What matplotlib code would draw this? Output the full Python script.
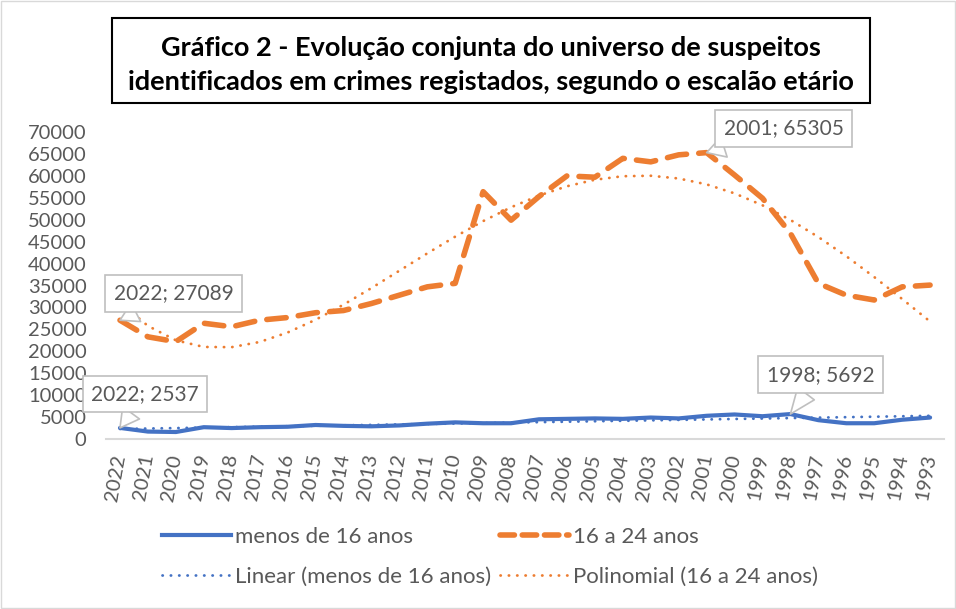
import numpy as np
import matplotlib
matplotlib.use("Agg")
import matplotlib.pyplot as plt
from matplotlib.lines import Line2D
from matplotlib.patches import Rectangle

plt.rcParams['font.family'] = ['Lato', 'DejaVu Sans']

years = [str(y) for y in range(2022, 1992, -1)]
menos_16 = [2537, 1700, 1600, 2700, 2500, 2700, 2800, 3200, 3000, 2900, 3100, 3500, 3800,
            3600, 3600, 4500, 4600, 4700, 4600, 4900, 4700, 5300, 5600, 5200, 5692, 4300,
            3600, 3600, 4400, 4900]
de_16_24 = [27089, 23300, 22200, 26400, 25600, 27100, 27700, 28800, 29300, 30900, 32800,
            34700, 35500, 56400, 49900, 55300, 60000, 59700, 64000, 63200, 64800, 65305,
            60200, 54900, 46900, 35500, 32800, 31700, 34700, 35100]

title = ("Gráfico 2 - Evolução conjunta do universo de suspeitos\n"
         "identificados em crimes registados, segundo o escalão etário")
blue = "#4472C4"
orange = "#ED7D31"
grey_txt = "#595959"
dots = (0, (0.1, 2.9))

fig = plt.figure(figsize=(9.56, 6.09), dpi=100)
fig.patches.append(Rectangle((0.001, 0.001), 0.998, 0.998, transform=fig.transFigure,
                             fill=False, ec="#D9D9D9", lw=1))

ax = fig.add_axes([0.1109, 0.2791, 0.8766, 0.5041])
x = np.arange(len(years))

# trend lines (Excel style: linear / polynomial on 1..n)
t = x + 1
lin = np.polyval(np.polyfit(t, menos_16, 1), t)
pol = np.polyval(np.polyfit(t, de_16_24, 4), t)

ax.plot(x, lin, color=blue, lw=2, linestyle=dots, dash_capstyle="round")
ax.plot(x, pol, color=orange, lw=2, linestyle=dots, dash_capstyle="round")
ax.plot(x, menos_16, color=blue, lw=3, solid_capstyle="round")
ax.plot(x, de_16_24, color=orange, lw=4, linestyle=(0, (3.5, 2.2)), dash_capstyle="round")

ax.set_xlim(-0.5, len(years) - 0.5)
ax.set_ylim(0, 70000)
ax.set_yticks(np.arange(0, 70001, 5000))
ax.set_xticks(x)
ax.set_xticklabels(years, rotation=80, ha="right", va="center", rotation_mode="anchor")
ax.tick_params(axis="both", length=0, labelsize=14.5, labelcolor=grey_txt)
ax.tick_params(axis="x", pad=11)
ax.tick_params(axis="y", pad=14)
for s in ["top", "right", "left"]:
    ax.spines[s].set_visible(False)
ax.spines["bottom"].set_color("#D9D9D9")
ax.spines["bottom"].set_linewidth(1.5)

# data callouts
def callout(i, vals, dx, dy):
    ax.annotate(f"{years[i]}; {vals[i]}", (x[i], vals[i]), xytext=(dx, dy),
                textcoords="offset points", ha="center", va="center",
                fontsize=15, color=grey_txt,
                bbox=dict(boxstyle="square,pad=0.4", fc="white", ec="#BFBFBF", lw=1.2),
                arrowprops=dict(arrowstyle="wedge,tail_width=1.0,shrink_factor=0.5",
                                fc="white", ec="#BFBFBF", lw=1.2, shrinkA=0, shrinkB=0))

callout(0, de_16_24, 38.5, 19.4)
callout(21, de_16_24, 55.5, 17.6)
callout(0, menos_16, 18, 24.5)
callout(24, menos_16, 21.6, 28.4)

# title box
fig.patches.append(Rectangle((112 / 956, 1 - 103 / 609), 758 / 956, 85 / 609,
                             transform=fig.transFigure, fill=False, ec="black", lw=1.5))
fig.text(491 / 956, 1 - 65 / 609, title, ha="center", va="center", fontsize=19.5,
         fontweight="bold", color="black", linespacing=1.45)

handles = [Line2D([], [], color=blue, lw=3),
           Line2D([], [], color=blue, lw=2, linestyle=dots, dash_capstyle="round"),
           Line2D([], [], color=orange, lw=4, linestyle=(0, (2.6, 1.4)), dash_capstyle="round"),
           Line2D([], [], color=orange, lw=2, linestyle=dots, dash_capstyle="round")]
labels = ["menos de 16 anos", "Linear (menos de 16 anos)",
          "16 a 24 anos", "Polinomial (16 a 24 anos)"]
fig.legend(handles, labels, loc="center", bbox_to_anchor=(490 / 956, 1 - 557 / 609),
           ncol=2, frameon=False, handlelength=3.1, handletextpad=0.2,
           columnspacing=0.4, labelspacing=0.9, fontsize=16, labelcolor=grey_txt)

fig.savefig("out.png", dpi=100)
